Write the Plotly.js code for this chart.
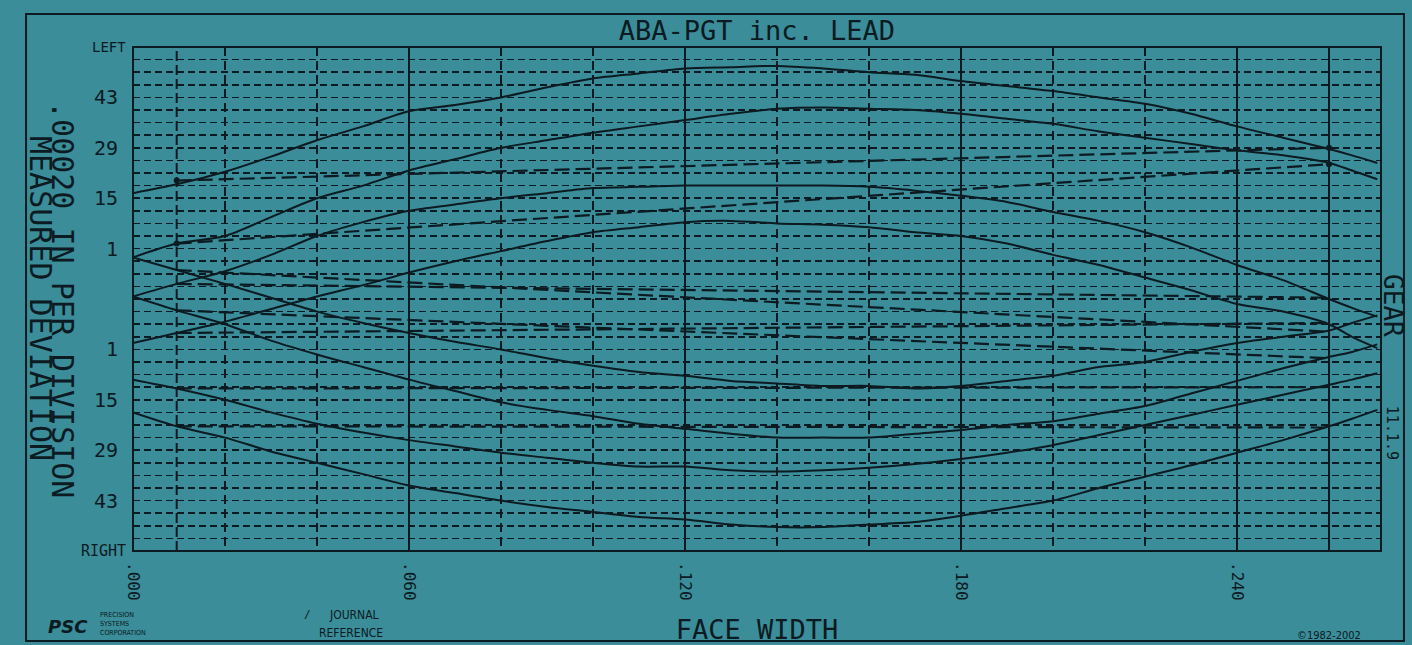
<!DOCTYPE html>
<html>
<head>
<meta charset="utf-8">
<script src="https://cdn.plot.ly/plotly-3.0.1.min.js"></script>
<style>
  html, body { margin: 0; padding: 0; background: #3a8d99; }
  #chart { width: 1412px; height: 645px; }
</style>
</head>
<body>
<div id="chart"></div>
<script>
// ---- data (face width in inches, deviation in chart divisions) ----
const faceWidth = [0, 0.0095, 0.02, 0.03, 0.04, 0.05, 0.06, 0.07, 0.08, 0.09, 0.10, 0.11, 0.12, 0.13, 0.14,
                   0.15, 0.16, 0.17, 0.18, 0.19, 0.20, 0.21, 0.22, 0.23, 0.24, 0.25, 0.26, 0.265, 0.2705];

const leftFlank1 = [8.4, 9.1, 10.1, 11.3, 12.6, 13.7, 14.9, 15.4, 16.0, 16.8, 17.5, 17.9, 18.3, 18.4, 18.5,
                    18.3, 18.0, 17.8, 17.3, 16.9, 16.5, 16.0, 15.5, 14.7, 13.7, 12.8, 11.9, 11.4, 10.8];
const leftFlank2 = [3.3, 4.4, 5.0, 6.5, 8.0, 9.0, 10.2, 11.1, 12.0, 12.6, 13.2, 13.7, 14.2, 14.7, 15.1,
                    15.2, 15.1, 15.0, 14.7, 14.3, 13.9, 13.3, 12.8, 12.3, 11.8, 11.4, 10.8, 10.2, 9.5];
const leftFlank3 = [0.2, 1.2, 2.2, 3.5, 5.0, 6.1, 7.0, 7.5, 8.0, 8.4, 8.8, 8.9, 9.0, 9.0, 9.0,
                    9.0, 8.9, 8.6, 8.2, 7.7, 6.9, 6.2, 5.3, 4.1, 2.7, 1.5, 0.0, -0.7, -1.4];
const leftFlank4 = [-3.5, -2.7, -1.8, -0.8, 0.2, 1.1, 2.1, 3.0, 3.8, 4.6, 5.3, 5.7, 6.1, 6.2, 6.0,
                    5.9, 5.7, 5.3, 5.0, 4.4, 3.5, 2.7, 1.7, 0.7, -0.4, -1.0, -2.0, -3.0, -3.9];
const rightFlank1 = [3.3, 2.3, 1.2, 0.1, -1.0, -1.9, -2.7, -3.4, -4.0, -4.7, -5.3, -5.8, -6.1, -6.5, -6.7,
                     -6.9, -6.9, -7.1, -6.9, -6.5, -6.1, -5.4, -5.0, -4.2, -3.5, -3.0, -2.5, -1.9, -1.3];
const rightFlank2 = [0.2, -0.9, -2.0, -3.3, -4.4, -5.4, -6.4, -7.3, -8.2, -8.8, -9.3, -9.9, -10.3, -10.7, -11.0,
                     -11.0, -11.0, -10.7, -10.4, -10.0, -9.7, -9.1, -8.5, -7.5, -6.5, -5.5, -4.6, -4.2, -3.6];
const rightFlank3 = [-6.4, -7.1, -8.0, -9.0, -9.9, -10.6, -11.2, -11.7, -12.2, -12.6, -13.0, -13.3, -13.3, -13.6, -13.7,
                     -13.6, -13.4, -13.1, -12.7, -12.2, -11.6, -10.8, -10.0, -9.2, -8.4, -7.6, -6.8, -6.4, -5.9];
const rightFlank4 = [-9.0, -10.1, -11.0, -12.1, -13.0, -13.9, -14.8, -15.4, -16.0, -16.5, -16.9, -17.3, -17.5, -17.9, -18.1,
                     -18.1, -17.9, -17.7, -17.2, -16.6, -16.0, -15.0, -14.1, -13.2, -12.2, -11.2, -10.1, -9.5, -8.8];

// journal reference positions and reference (lead slope) lines
const journalX = [0.0095, 0.26];
const refLeft1 = [9.4, 12.0];
const refLeft2 = [4.4, 10.7];
const refLeft3 = [1.2, 0.1];
const refLeft4 = [-2.7, -1.9];
const refRight1 = [2.3, -2.6];
const refRight2 = [-0.9, -4.7];
const refRight3 = [-7.1, -7.0];
const refRight4 = [-10.1, -10.2];

// tick labels
const xTickVals = [0, 0.06, 0.12, 0.18, 0.24];
const xTickText = [".000", ".060", ".120", ".180", ".240"];
const yTickVals = [16, 12, 8, 4, -4, -8, -12, -16];
const yTickText = ["43", "29", "15", "1", "1", "15", "29", "43"];

// ---- styling ----
const INK = "#0c1a21";
const BG = "#3a8d99";
const FONT = "DejaVu Sans Mono, Liberation Mono, monospace";
const SMALL = "DejaVu Sans Condensed, DejaVu Sans";

const curves = [leftFlank1, leftFlank2, leftFlank3, leftFlank4, rightFlank1, rightFlank2, rightFlank3, rightFlank4];
const refs = [refLeft1, refLeft2, refLeft3, refLeft4, refRight1, refRight2, refRight3, refRight4];

const traces = [];
refs.forEach((r, i) => {
  const withDots = i < 2;
  traces.push({
    x: journalX, y: r, type: "scatter",
    mode: withDots ? "lines+markers" : "lines",
    line: { color: INK, width: 2.2, dash: "15px,6px" },
    marker: { color: INK, size: 6 },
    hoverinfo: "skip", showlegend: false
  });
});
curves.forEach(c => {
  traces.push({
    x: faceWidth, y: c, type: "scatter", mode: "lines",
    line: { color: INK, width: 2, shape: "spline", smoothing: 0.8 },
    hoverinfo: "skip", showlegend: false
  });
});

const shapes = [
  { type: "rect", xref: "paper", yref: "paper", x0: 0, x1: 1, y0: 0, y1: 1,
    line: { color: INK, width: 2 }, layer: "above" },
  { type: "rect", xref: "paper", yref: "paper", x0: -0.0857, x1: 1.0184, y0: -0.1786, y1: 1.0655,
    line: { color: INK, width: 2 } }
];
journalX.forEach(jx => {
  shapes.push({ type: "line", xref: "x", yref: "paper", x0: jx, x1: jx, y0: 0, y1: 1,
    line: { color: INK, width: 2, dash: "10px,4px" } });
});

function note(text, x, y, size, extra) {
  return Object.assign({ text: text, xref: "paper", yref: "paper", x: x, y: y,
    xanchor: "center", yanchor: "middle", showarrow: false,
    font: { family: FONT, size: size, color: INK } }, extra || {});
}

const annotations = [
  note(".00020 IN PER DIVISION", -0.0561, 0.498, 30, { textangle: 90 }),
  note("MEASURED DEVIATION", -0.0745, 0.502, 30, { textangle: 90 }),
  note("LEFT", -0.004, 1.0, 14, { xanchor: "right" }),
  note("RIGHT", -0.004, 0.0, 15, { xanchor: "right" }),
  note("GEAR", 1.0096, 0.486, 26, { textangle: 90 }),
  note("11.1.9", 1.0090, 0.234, 15, { textangle: 90 }),
  note("JOURNAL", 0.177, -0.127, 12, { font: { family: SMALL, size: 12, color: INK } }),
  note("REFERENCE", 0.175, -0.163, 12, { font: { family: SMALL, size: 12, color: INK } }),
  note("/", 0.140, -0.125, 11),
  note("<b><i>PSC</i></b>", -0.0345, -0.150, 18, { xanchor: "right", font: { family: "DejaVu Sans", size: 18, color: INK } }),
  note("PRECISION", -0.028, -0.127, 7, { xanchor: "left", font: { family: SMALL, size: 7, color: INK } }),
  note("SYSTEMS", -0.028, -0.145, 7, { xanchor: "left", font: { family: SMALL, size: 7, color: INK } }),
  note("CORPORATION", -0.028, -0.163, 7, { xanchor: "left", font: { family: SMALL, size: 7, color: INK } }),
  note("©1982-2002", 0.958, -0.167, 11, { font: { family: SMALL, size: 11, color: INK } })
];

const layout = {
  width: 1412, height: 645,
  margin: { l: 133, r: 31, t: 47, b: 94, pad: 0 },
  paper_bgcolor: BG, plot_bgcolor: BG,
  showlegend: false,
  title: { text: "ABA-PGT inc. LEAD", x: 0.536, xanchor: "center", y: 0.953, yanchor: "middle",
           font: { family: FONT, size: 27, color: INK } },
  xaxis: {
    range: [0, 0.2713], fixedrange: true, zeroline: false,
    tickmode: "array", tickvals: xTickVals, ticktext: xTickText, tickangle: 90,
    ticks: "", ticklabelstandoff: 10,
    tickfont: { family: FONT, size: 16, color: INK },
    showgrid: true, gridcolor: INK, gridwidth: 1.5,
    minor: { tickmode: "linear", tick0: 0, dtick: 0.02, showgrid: true, gridcolor: INK,
             gridwidth: 1.3, griddash: "9px,5px" },
    showline: false,
    title: { text: "FACE WIDTH", standoff: 22, font: { family: FONT, size: 27, color: INK } }
  },
  yaxis: {
    range: [-20, 20], fixedrange: true, zeroline: false,
    tickmode: "array", tickvals: yTickVals, ticktext: yTickText,
    ticks: "", ticklabelstandoff: 14,
    tickfont: { family: FONT, size: 20, color: INK },
    showgrid: true, gridcolor: INK, gridwidth: 1.5, griddash: "7px,4px",
    minor: { tickmode: "linear", tick0: 0, dtick: 1, showgrid: true, gridcolor: INK,
             gridwidth: 1.5, griddash: "7px,4px" },
    showline: false
  },
  shapes: shapes,
  annotations: annotations
};

Plotly.newPlot("chart", traces, layout, { staticPlot: true, displayModeBar: false });
</script>
</body>
</html>
